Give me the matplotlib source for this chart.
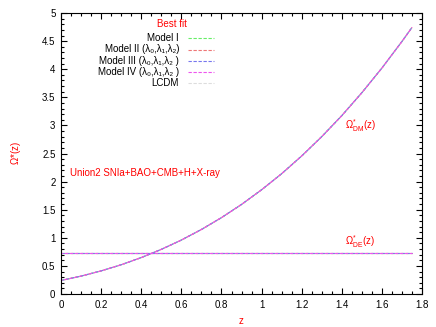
import matplotlib
matplotlib.use("Agg")
import matplotlib.pyplot as plt
from matplotlib.ticker import MultipleLocator, FormatStrFormatter

plt.rcParams['font.family'] = ['Liberation Sans', 'DejaVu Sans']
plt.rcParams['mathtext.fontset'] = 'custom'
plt.rcParams['mathtext.rm'] = 'Liberation Sans'
plt.rcParams['mathtext.it'] = 'Liberation Sans'

z = [0.0, 0.1, 0.2, 0.3, 0.4, 0.5, 0.6, 0.7, 0.8, 0.9, 1.0,
     1.1, 1.2, 1.3, 1.4, 1.5, 1.6, 1.7, 1.75]
omega_dm = [0.240, 0.318, 0.411, 0.520, 0.648, 0.794, 0.960, 1.148, 1.359,
            1.594, 1.855, 2.141, 2.457, 2.801, 3.175, 3.583, 4.022, 4.496, 4.745]
omega_de_model1 = [0.725] * len(z)
omega_de_other = [0.730] * len(z)

model_labels = ['Model I',
                'Model II (λ₀,λ₁,λ₂)',
                'Model III (λ₀,λ₁,λ₂ )',
                'Model IV (λ₀,λ₁,λ₂ )',
                'LCDM']
model_colors = ['#66ee66', '#ee7777', '#7777ee', '#ee55ee', '#dddddd']
dash_offsets = [0, 1.5, 0, 1.5, 0.75]

fig = plt.figure(figsize=(4.36, 3.27), dpi=100)
ax = fig.add_axes([0.140, 0.101, 0.828, 0.859])

order = [4, 0, 1, 2, 3]
for i in order:
    de = omega_de_model1 if i == 0 else omega_de_other
    ls = (dash_offsets[i], (3, 1.5))
    ax.plot(z, omega_dm, color=model_colors[i], lw=0.8, linestyle=ls)
    ax.plot(z, de, color=model_colors[i], lw=0.8, linestyle=ls)

ax.set_xlim(0, 1.8)
ax.set_ylim(0, 5)
ax.xaxis.set_major_locator(MultipleLocator(0.2))
ax.xaxis.set_minor_locator(MultipleLocator(0.05))
ax.yaxis.set_major_locator(MultipleLocator(0.5))
ax.yaxis.set_minor_locator(MultipleLocator(0.1))
ax.xaxis.set_major_formatter(FormatStrFormatter('%g'))
ax.yaxis.set_major_formatter(FormatStrFormatter('%g'))
ax.tick_params(which='both', direction='in', top=True, right=True,
               labelsize=7, width=0.8)
ax.tick_params(which='major', length=4, pad=4)
ax.tick_params(which='minor', length=2)
for s in ax.spines.values():
    s.set_linewidth(0.8)

ax.set_xlabel('z', color='red', fontsize=7, labelpad=5)
ax.set_ylabel(r'$\Omega$*(z)', color='red', fontsize=7, labelpad=14)

# legend-like block (gnuplot style)
fig.text(172/436, 1 - 24/327, 'Best fit', color='red', fontsize=7,
         ha='center', va='center')
rows_y = [38, 49.5, 61, 72, 83]
for lbl, col, yy in zip(model_labels, model_colors, rows_y):
    fig.text(179/436, 1 - yy/327, lbl, fontsize=7, ha='right', va='center')
    fig.add_artist(plt.Line2D([188/436, 214/436], [1 - yy/327, 1 - yy/327],
                              color=col, lw=0.8, linestyle=(0, (3, 1.5)),
                              transform=fig.transFigure))

fig.text(70/436, 1 - 173/327, 'Union2 SNIa+BAO+CMB+H+X-ray', color='red',
         fontsize=7, ha='left', va='center')
fig.text(345/436, 1 - 126/327, r'$\Omega^{*}_{\rm DM}$(z)', color='red',
         fontsize=7, ha='left', va='center')
fig.text(345/436, 1 - 242/327, r'$\Omega^{*}_{\rm DE}$(z)', color='red',
         fontsize=7, ha='left', va='center')

fig.savefig('out.png', dpi=100)
